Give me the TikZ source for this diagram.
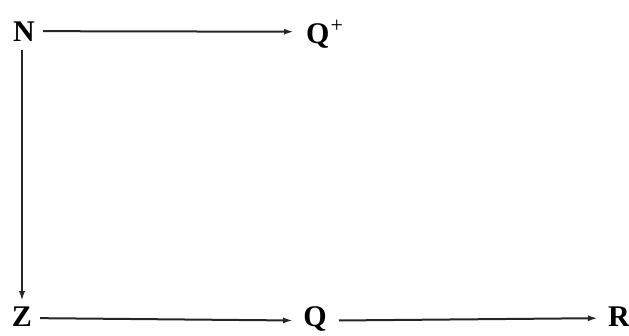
\documentclass[tikz,border=0pt]{standalone}
\usepackage{fontspec}
\setmainfont{Liberation Serif}
\usetikzlibrary{arrows.meta}
\begin{document}
\begin{tikzpicture}[x=1pt,y=1pt,
  lbl/.style={font=\fontsize{30}{30}\selectfont\bfseries, inner sep=0pt, anchor=base},
  arr/.style={-{Latex[length=10pt,width=6pt]}, line width=2pt, draw=black!85}]
\useasboundingbox (0,0) rectangle (629,336);
\node[lbl] (N) at (24,294) {N};
\node[lbl, anchor=base west] (Qp) at (306,292) {Q\kern1pt\raisebox{11pt}{\fontsize{22}{22}\selectfont\mdseries +}};
\node[lbl] (Z) at (22,9) {Z};
\node[lbl] (Q) at (315,9) {Q};
\node[lbl] (R) at (619,9) {R};
\draw[arr] ([yshift=1pt]N.east) ++(8,0) -- ([yshift=3pt]Qp.west -| 294,0);
\draw[arr] (N.south) ++(-2,-8) -- ([yshift=6pt]Z.north);
\draw[arr] ([xshift=8pt,yshift=-1pt]Z.east) -- ([xshift=-10pt,yshift=-1pt]Q.west);
\draw[arr] ([xshift=12pt,yshift=-1pt]Q.east) -- ([xshift=-10pt,yshift=-1pt]R.west);
\end{tikzpicture}
\end{document}
